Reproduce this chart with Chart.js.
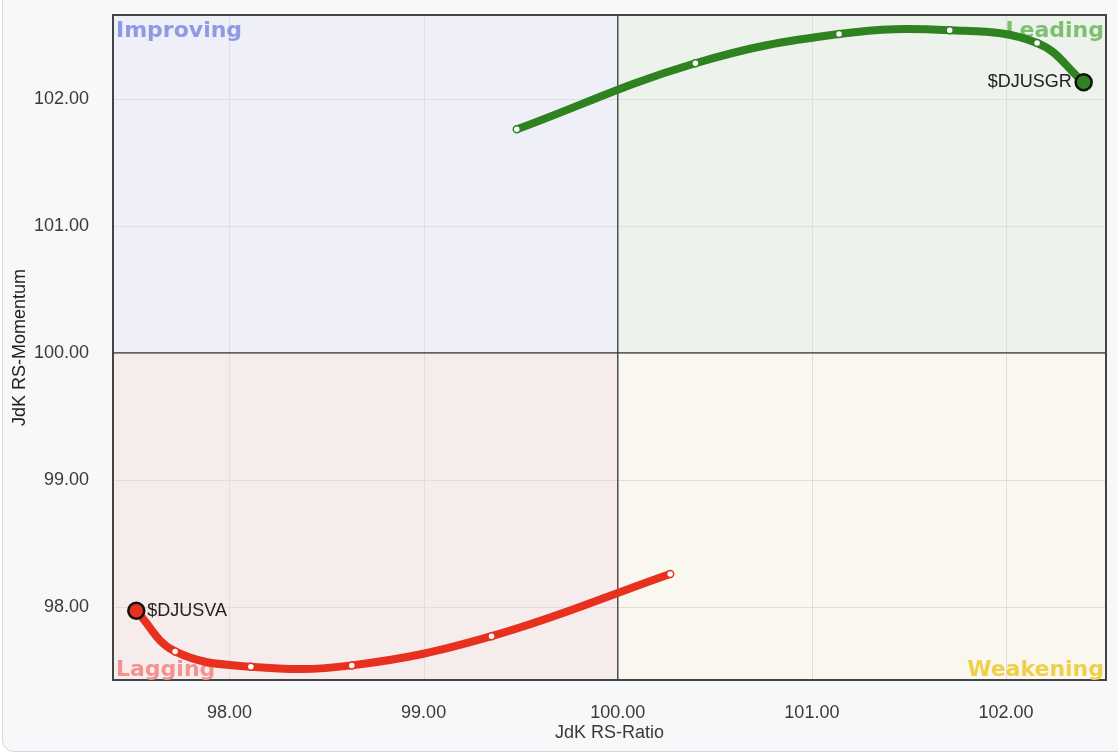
<!DOCTYPE html>
<html>
<head>
<meta charset="utf-8">
<script src="https://cdn.jsdelivr.net/npm/chart.js@4"></script>
<style>
  html, body { margin: 0; padding: 0; background: #ffffff; }
  #card { position: absolute; left: 2px; top: -12px; width: 1130px; height: 762px;
          background: #f7f8fa; border: 1px solid #d4d6da; border-radius: 12px; }
  canvas { position: absolute; left: 0; top: 0; }
</style>
</head>
<body>
<div id="card"></div>
<canvas id="rrg" width="1118" height="754"></canvas>
<script>
// tails: oldest -> newest
const growthRatio = [99.48, 100.40, 101.14, 101.71, 102.16, 102.40];
const growthMomentum = [101.76, 102.28, 102.51, 102.54, 102.44, 102.13];
const valueRatio = [100.27, 99.35, 98.63, 98.11, 97.72, 97.52];
const valueMomentum = [98.26, 97.77, 97.54, 97.53, 97.65, 97.97];
const symbols = ['$DJUSGR', '$DJUSVA'];
const quadrants = ['Improving', 'Leading', 'Lagging', 'Weakening'];

const labelFont = '"Liberation Sans", Arial, sans-serif';

function toPoints(xs, ys) {
  return xs.map((x, i) => ({ x: x, y: ys[i] }));
}

function pointStyle(color, n) {
  return {
    radius: Array.from({ length: n }, (_, i) => i === n - 1 ? 8 : 3.5),
    bg: Array.from({ length: n }, (_, i) => i === n - 1 ? color : '#ffffff'),
    border: Array.from({ length: n }, (_, i) => i === n - 1 ? '#111111' : color),
    bw: Array.from({ length: n }, (_, i) => i === n - 1 ? 2.5 : 1.5)
  };
}

const gStyle = pointStyle('#2e8220', growthRatio.length);
const vStyle = pointStyle('#e8301f', valueRatio.length);

const quadrantPlugin = {
  id: 'quadrants',
  beforeDatasetsDraw(chart) {
    const { ctx, chartArea: a, scales: { x, y } } = chart;
    const cx = x.getPixelForValue(100);
    const cy = y.getPixelForValue(100);
    ctx.save();
    ctx.fillStyle = '#eeeff7'; ctx.fillRect(a.left, a.top, cx - a.left, cy - a.top);
    ctx.fillStyle = '#edf2ec'; ctx.fillRect(cx, a.top, a.right - cx, cy - a.top);
    ctx.fillStyle = '#f7ecec'; ctx.fillRect(a.left, cy, cx - a.left, a.bottom - cy);
    ctx.fillStyle = '#faf7ef'; ctx.fillRect(cx, cy, a.right - cx, a.bottom - cy);
    // grid over the fills
    ctx.strokeStyle = '#dedede'; ctx.lineWidth = 1;
    x.ticks.forEach(t => {
      const px = Math.round(x.getPixelForValue(t.value)) + 0.5;
      ctx.beginPath(); ctx.moveTo(px, a.top); ctx.lineTo(px, a.bottom); ctx.stroke();
    });
    y.ticks.forEach(t => {
      const py = Math.round(y.getPixelForValue(t.value)) + 0.5;
      ctx.beginPath(); ctx.moveTo(a.left, py); ctx.lineTo(a.right, py); ctx.stroke();
    });
    ctx.strokeStyle = '#333333'; ctx.lineWidth = 1.2;
    ctx.beginPath(); ctx.moveTo(cx, a.top); ctx.lineTo(cx, a.bottom); ctx.stroke();
    ctx.beginPath(); ctx.moveTo(a.left, cy); ctx.lineTo(a.right, cy); ctx.stroke();
    ctx.strokeStyle = '#444444'; ctx.lineWidth = 2;
    ctx.strokeRect(a.left, a.top, a.right - a.left, a.bottom - a.top);
    // quadrant names
    ctx.font = 'bold 22px "DejaVu Sans", sans-serif';
    ctx.textBaseline = 'top';
    ctx.textAlign = 'left';
    ctx.fillStyle = '#8f9ae6'; ctx.fillText(quadrants[0], a.left + 3, a.top + 5);
    ctx.textAlign = 'right';
    ctx.fillStyle = '#7dc06d'; ctx.fillText(quadrants[1], a.right - 2, a.top + 5);
    ctx.textBaseline = 'bottom';
    ctx.textAlign = 'left';
    ctx.fillStyle = '#f29393'; ctx.fillText(quadrants[2], a.left + 3, a.bottom + 1);
    ctx.textAlign = 'right';
    ctx.fillStyle = '#efd048'; ctx.fillText(quadrants[3], a.right - 2, a.bottom + 1);
    ctx.restore();
  },
  afterDatasetsDraw(chart) {
    const { ctx, scales: { x, y } } = chart;
    ctx.save();
    ctx.font = '18px ' + labelFont;
    ctx.fillStyle = '#222222';
    ctx.textBaseline = 'middle';
    const gi = growthRatio.length - 1;
    ctx.textAlign = 'right';
    ctx.fillText(symbols[0], x.getPixelForValue(growthRatio[gi]) - 12, y.getPixelForValue(growthMomentum[gi]));
    const vi = valueRatio.length - 1;
    ctx.textAlign = 'left';
    ctx.fillText(symbols[1], x.getPixelForValue(valueRatio[vi]) + 11, y.getPixelForValue(valueMomentum[vi]));
    ctx.restore();
  }
};

new Chart(document.getElementById('rrg'), {
  type: 'scatter',
  data: {
    datasets: [
      {
        label: symbols[0],
        data: toPoints(growthRatio, growthMomentum),
        showLine: true,
        tension: 0.4,
        borderColor: '#2e8220',
        borderWidth: 8,
        pointRadius: gStyle.radius,
        pointBackgroundColor: gStyle.bg,
        pointBorderColor: gStyle.border,
        pointBorderWidth: gStyle.bw
      },
      {
        label: symbols[1],
        data: toPoints(valueRatio, valueMomentum),
        showLine: true,
        tension: 0.4,
        borderColor: '#e8301f',
        borderWidth: 8,
        pointRadius: vStyle.radius,
        pointBackgroundColor: vStyle.bg,
        pointBorderColor: vStyle.border,
        pointBorderWidth: vStyle.bw
      }
    ]
  },
  options: {
    responsive: false,
    animation: false,
    layout: { padding: { top: 15, right: 12, left: 0, bottom: 0 } },
    plugins: { legend: { display: false }, tooltip: { enabled: false } },
    scales: {
      x: {
        min: 97.4, max: 102.515,
        afterBuildTicks: s => { s.ticks = [98, 99, 100, 101, 102].map(v => ({ value: v })); },
        afterFit: s => { s.height = 74; s.paddingLeft = 0; s.paddingRight = 0; },
        grid: { display: false },
        border: { display: false },
        ticks: { padding: 14, color: '#3a3a3a', font: { size: 18, family: labelFont },
                 callback: v => v.toFixed(2) },
        title: { display: true, text: 'JdK RS-Ratio', color: '#3a3a3a', padding: { top: 0, bottom: 10 },
                 font: { size: 18, family: labelFont } }
      },
      y: {
        min: 97.425, max: 102.66,
        afterBuildTicks: s => { s.ticks = [98, 99, 100, 101, 102].map(v => ({ value: v })); },
        afterFit: s => { s.width = 113; s.paddingTop = 0; s.paddingBottom = 0; },
        grid: { display: false },
        border: { display: false },
        ticks: { padding: 16, color: '#3a3a3a', font: { size: 18, family: labelFont },
                 callback: v => v.toFixed(2) },
        title: { display: true, text: 'JdK RS-Momentum', color: '#222', padding: { top: 9 },
                 font: { size: 18, family: labelFont } }
      }
    }
  },
  plugins: [quadrantPlugin]
});
</script>
</body>
</html>
